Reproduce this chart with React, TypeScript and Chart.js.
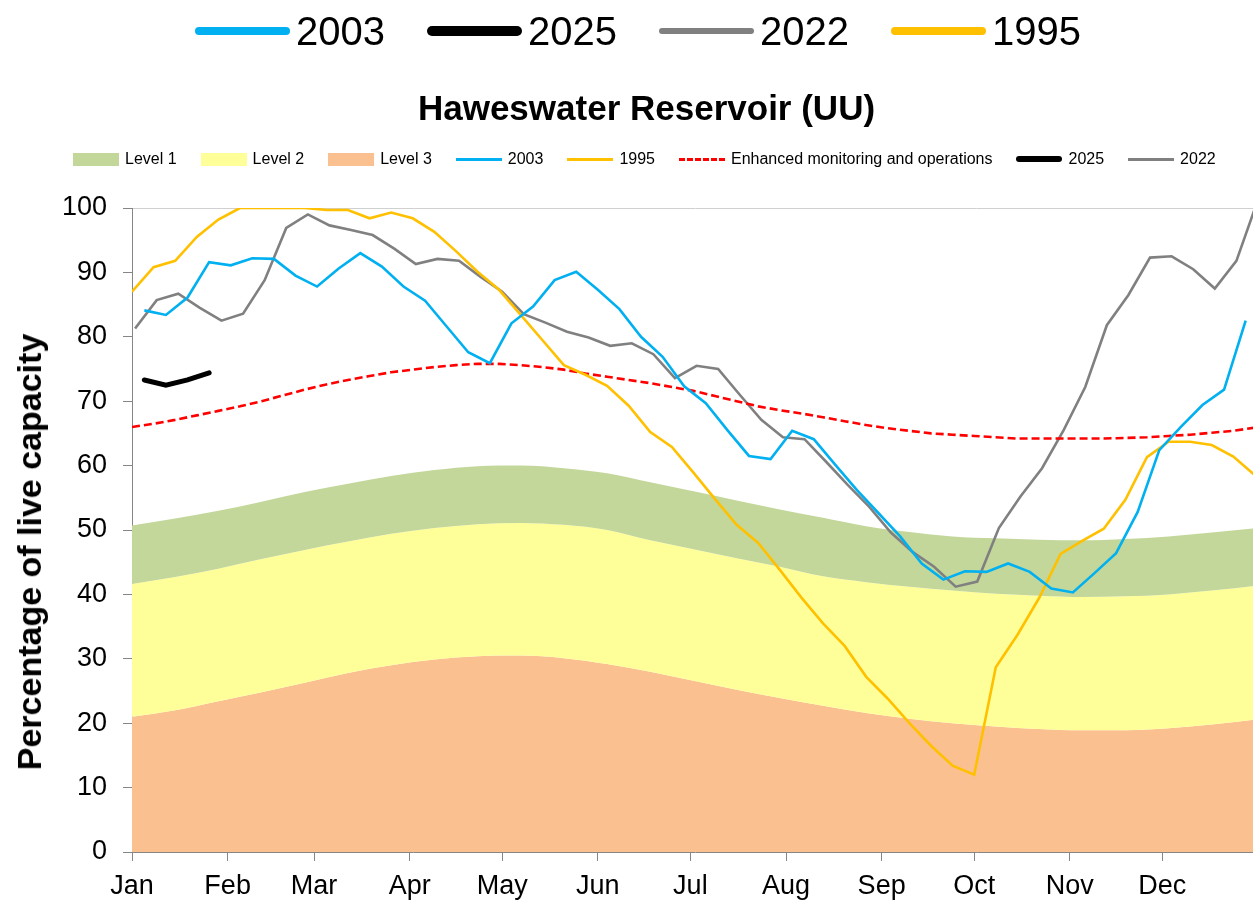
import React, { useEffect, useRef } from 'react';
import { Chart, registerables } from 'chart.js';

Chart.register(...registerables);

const FONT = "'Liberation Sans', Arial, sans-serif";

// Month ticks (day of year) and labels
const monthDays = [0, 31, 59, 90, 120, 151, 181, 212, 243, 273, 304, 334];
const monthLabels = ['Jan', 'Feb', 'Mar', 'Apr', 'May', 'Jun', 'Jul', 'Aug', 'Sep', 'Oct', 'Nov', 'Dec'];
const yTicks = [0, 10, 20, 30, 40, 50, 60, 70, 80, 90, 100];

// Weekly readings: first reading day, then one value per week
const start2003 = 4;
const values2003 = [
  84.1, 83.4, 86.1, 91.6, 91.1, 92.2, 92.1, 89.5, 87.8, 90.6, 93.0, 90.9, 87.8, 85.6, 81.6, 77.6,
  75.9, 82.1, 84.7, 88.8, 90.1, 87.3, 84.3, 80.0, 76.9, 72.3, 69.7, 65.5, 61.5, 61.0, 65.4, 64.1,
  60.1, 56.2, 52.6, 49.0, 44.8, 42.3, 43.6, 43.5, 44.8, 43.5, 40.9, 40.3, 43.3, 46.4, 52.8, 62.4,
  66.0, 69.4, 71.8, 82.5,
];

const start1995 = 0;
const values1995 = [
  87.0, 90.8, 91.8, 95.5, 98.2, 100, 100, 100, 100, 99.7, 99.7, 98.4, 99.3, 98.4, 96.3, 93.3,
  90.1, 87.3, 83.4, 79.5, 75.6, 74.1, 72.4, 69.3, 65.2, 62.9, 58.9, 54.8, 50.8, 48.0, 43.8, 39.5,
  35.5, 32.0, 27.2, 23.8, 20.0, 16.5, 13.4, 12.0, 28.7, 33.7, 39.4, 46.3, 48.3, 50.2, 54.7, 61.3,
  63.7, 63.7, 63.2, 61.4, 58.5,
];

const start2022 = 1;
const values2022 = [
  81.3, 85.7, 86.7, 84.5, 82.5, 83.6, 88.8, 96.9, 99.0, 97.3, 96.6, 95.8, 93.7, 91.3, 92.1, 91.8,
  89.3, 87.0, 83.5, 82.2, 80.8, 79.9, 78.6, 79.0, 77.3, 73.6, 75.5, 75.0, 71.0, 67.1, 64.4, 64.1,
  60.6, 57.0, 53.6, 49.6, 46.6, 44.3, 41.2, 42.0, 50.3, 55.2, 59.6, 65.5, 72.2, 81.8, 86.5, 92.3,
  92.5, 90.5, 87.5, 91.8, 101.3,
];

const start2025 = 4;
const values2025 = [73.3, 72.5, 73.3, 74.4];

const startEnhanced = 0;
const valuesEnhanced = [
  66.0, 66.5, 67.1, 67.8, 68.5, 69.2, 70.0, 70.9, 71.8, 72.6, 73.3, 73.9, 74.5, 74.9, 75.3, 75.6,
  75.8, 75.8, 75.6, 75.3, 74.9, 74.3, 73.8, 73.3, 72.8, 72.2, 71.6, 70.8, 70.0, 69.2, 68.6, 68.1,
  67.5, 66.9, 66.3, 65.8, 65.4, 65.0, 64.8, 64.6, 64.4, 64.2, 64.2, 64.2, 64.2, 64.2, 64.3, 64.4,
  64.6, 64.8, 65.1, 65.4, 65.9,
];

// Drought trigger bands (upper edge of each level), fortnightly
const bandDays = [
  0, 14, 28, 42, 56, 70, 84, 98, 112, 126, 140, 154, 168, 182, 196, 210, 224, 238, 252, 266, 280,
  294, 308, 322, 336, 350, 365,
];
const level1 = [
  50.7, 51.8, 53.0, 54.4, 55.9, 57.2, 58.4, 59.3, 59.9, 60.0, 59.6, 58.8, 57.4, 56.0, 54.6, 53.2,
  51.9, 50.6, 49.7, 49.0, 48.7, 48.5, 48.4, 48.6, 49.0, 49.6, 50.3,
];
const level2 = [
  41.6, 42.7, 44.0, 45.5, 46.9, 48.2, 49.4, 50.3, 50.9, 51.1, 50.8, 50.0, 48.4, 47.0, 45.6, 44.3,
  42.8, 41.9, 41.2, 40.6, 40.1, 39.8, 39.6, 39.7, 40.0, 40.6, 41.4,
];
const level3 = [
  21.0, 22.0, 23.4, 24.8, 26.3, 27.8, 29.0, 29.9, 30.4, 30.5, 30.1, 29.2, 28.0, 26.6, 25.2, 23.9,
  22.7, 21.6, 20.7, 20.0, 19.5, 19.1, 18.9, 18.9, 19.2, 19.8, 20.6,
];

const C_BLUE = '#00b0f0';
const C_YELLOW = '#ffc000';
const C_GREY = '#808080';
const C_BLACK = '#000000';
const C_RED = '#ff0000';
const C_L1 = '#c4d79b';
const C_L2 = '#ffff99';
const C_L3 = '#fac090';

const weekly = (start: number, vals: number[]) => vals.map((v, i) => ({ x: start + 7 * i, y: v }));
const byDays = (days: number[], vals: number[]) => vals.map((v, i) => ({ x: days[i], y: v }));

const bigLegend = [
  { label: '2003', color: C_BLUE, h: 8 },
  { label: '2025', color: C_BLACK, h: 10 },
  { label: '2022', color: C_GREY, h: 6 },
  { label: '1995', color: C_YELLOW, h: 8 },
];

type SmallItem = { label: string; kind: 'box' | 'line' | 'dash'; color: string; h: number };
const smallLegend: SmallItem[] = [
  { label: 'Level 1', kind: 'box', color: C_L1, h: 13 },
  { label: 'Level 2', kind: 'box', color: C_L2, h: 13 },
  { label: 'Level 3', kind: 'box', color: C_L3, h: 13 },
  { label: '2003', kind: 'line', color: C_BLUE, h: 3 },
  { label: '1995', kind: 'line', color: C_YELLOW, h: 3 },
  { label: 'Enhanced monitoring and operations', kind: 'dash', color: C_RED, h: 3 },
  { label: '2025', kind: 'line', color: C_BLACK, h: 6 },
  { label: '2022', kind: 'line', color: C_GREY, h: 3 },
];

export default function App() {
  const ref = useRef<HTMLCanvasElement | null>(null);

  useEffect(() => {
    document.body.style.margin = '0';
    const canvas = ref.current;
    if (!canvas) return;
    const lineBase = { pointRadius: 0, pointHoverRadius: 0, fill: false, tension: 0, order: 1 };
    const bandBase = { pointRadius: 0, borderWidth: 0, cubicInterpolationMode: 'monotone', order: 10 };
    const chart = new Chart(canvas, {
      type: 'line',
      data: {
        datasets: [
          { ...bandBase, label: 'Level 1', data: byDays(bandDays, level1), fill: '+1', backgroundColor: C_L1, borderColor: C_L1 },
          { ...bandBase, label: 'Level 2', data: byDays(bandDays, level2), fill: '+1', backgroundColor: C_L2, borderColor: C_L2 },
          { ...bandBase, label: 'Level 3', data: byDays(bandDays, level3), fill: 'origin', backgroundColor: C_L3, borderColor: C_L3 },
          { ...lineBase, label: '2003', data: weekly(start2003, values2003), borderColor: C_BLUE, borderWidth: 2.6 },
          { ...lineBase, label: '1995', data: weekly(start1995, values1995), borderColor: C_YELLOW, borderWidth: 2.6 },
          { ...lineBase, label: 'Enhanced monitoring and operations', data: weekly(startEnhanced, valuesEnhanced), borderColor: C_RED, borderWidth: 2.6, borderDash: [8, 4] },
          { ...lineBase, label: '2025', data: weekly(start2025, values2025), borderColor: C_BLACK, borderWidth: 5, borderCapStyle: 'round' },
          { ...lineBase, label: '2022', data: weekly(start2022, values2022), borderColor: C_GREY, borderWidth: 2.6 },
        ] as any,
      },
      options: {
        responsive: false,
        animation: false,
        layout: { padding: { top: 208, left: 0, right: 0, bottom: 0 } },
        plugins: { legend: { display: false }, title: { display: false }, tooltip: { enabled: false } },
        events: [],
        scales: {
          x: {
            type: 'linear',
            min: 0,
            max: 365,
            afterBuildTicks: (scale: any) => {
              scale.ticks = monthDays.map((v) => ({ value: v }));
            },
            afterFit: (scale: any) => {
              scale.height = 50;
            },
            ticks: {
              autoSkip: false,
              maxRotation: 0,
              padding: 9,
              color: '#000',
              font: { family: FONT, size: 27 },
              callback: (v: any) => monthLabels[monthDays.indexOf(Number(v))] ?? '',
            },
            grid: { drawOnChartArea: false, tickLength: 9, color: '#868686', tickColor: '#868686' },
            border: { display: true, color: '#868686', width: 1 },
          },
          y: {
            type: 'linear',
            min: 0,
            max: 100,
            afterBuildTicks: (scale: any) => {
              scale.ticks = yTicks.map((v) => ({ value: v }));
            },
            afterFit: (scale: any) => {
              scale.width = 132;
            },
            ticks: { padding: 16, color: '#000', font: { family: FONT, size: 27 } },
            grid: {
              drawOnChartArea: true,
              tickLength: 9,
              color: (ctx: any) => (ctx.tick && ctx.tick.value === 100 ? '#d0d0d0' : 'rgba(0,0,0,0)'),
              tickColor: '#868686',
            },
            border: { display: true, color: '#868686', width: 1 },
          },
        },
      } as any,
    });
    return () => chart.destroy();
  }, []);

  return (
    <div style={{ position: 'relative', width: 1253, height: 902, fontFamily: FONT, overflow: 'hidden', background: '#fff' }}>
      <canvas ref={ref} width={1258} height={902} style={{ position: 'absolute', left: 0, top: 0 }} />
      <div style={{ position: 'absolute', left: 195, top: 11, display: 'flex', alignItems: 'center', fontSize: 40, lineHeight: '40px', color: '#000' }}>
        {bigLegend.map((it) => (
          <div key={it.label} style={{ display: 'flex', alignItems: 'center', marginRight: 42 }}>
            <span style={{ display: 'inline-block', width: 95, height: it.h, borderRadius: it.h / 2, background: it.color }} />
            <span style={{ marginLeft: 6 }}>{it.label}</span>
          </div>
        ))}
      </div>
      <div style={{ position: 'absolute', left: 0, width: 1293, top: 90, textAlign: 'center', fontSize: 35, lineHeight: '35px', fontWeight: 'bold', color: '#000' }}>
        Haweswater Reservoir (UU)
      </div>
      <div style={{ position: 'absolute', left: 73, top: 151, display: 'flex', alignItems: 'center', fontSize: 16, lineHeight: '16px', color: '#000' }}>
        {smallLegend.map((it) => (
          <div key={it.label} style={{ display: 'flex', alignItems: 'center', marginRight: 24 }}>
            <span
              style={{
                display: 'inline-block',
                width: 46,
                height: it.kind === 'dash' ? 0 : it.h,
                background: it.kind === 'dash' ? 'transparent' : it.color,
                borderTop: it.kind === 'dash' ? `${it.h}px dashed ${it.color}` : 'none',
                borderRadius: it.kind === 'line' && it.h > 3 ? it.h / 2 : 0,
              }}
            />
            <span style={{ marginLeft: 6 }}>{it.label}</span>
          </div>
        ))}
      </div>
      <div
        style={{
          position: 'absolute',
          left: 29,
          top: 552,
          transform: 'translate(-50%, -50%) rotate(-90deg)',
          whiteSpace: 'nowrap',
          fontSize: 34,
          lineHeight: '34px',
          fontWeight: 'bold',
          color: '#000',
        }}
      >
        Percentage of live capacity
      </div>
    </div>
  );
}
